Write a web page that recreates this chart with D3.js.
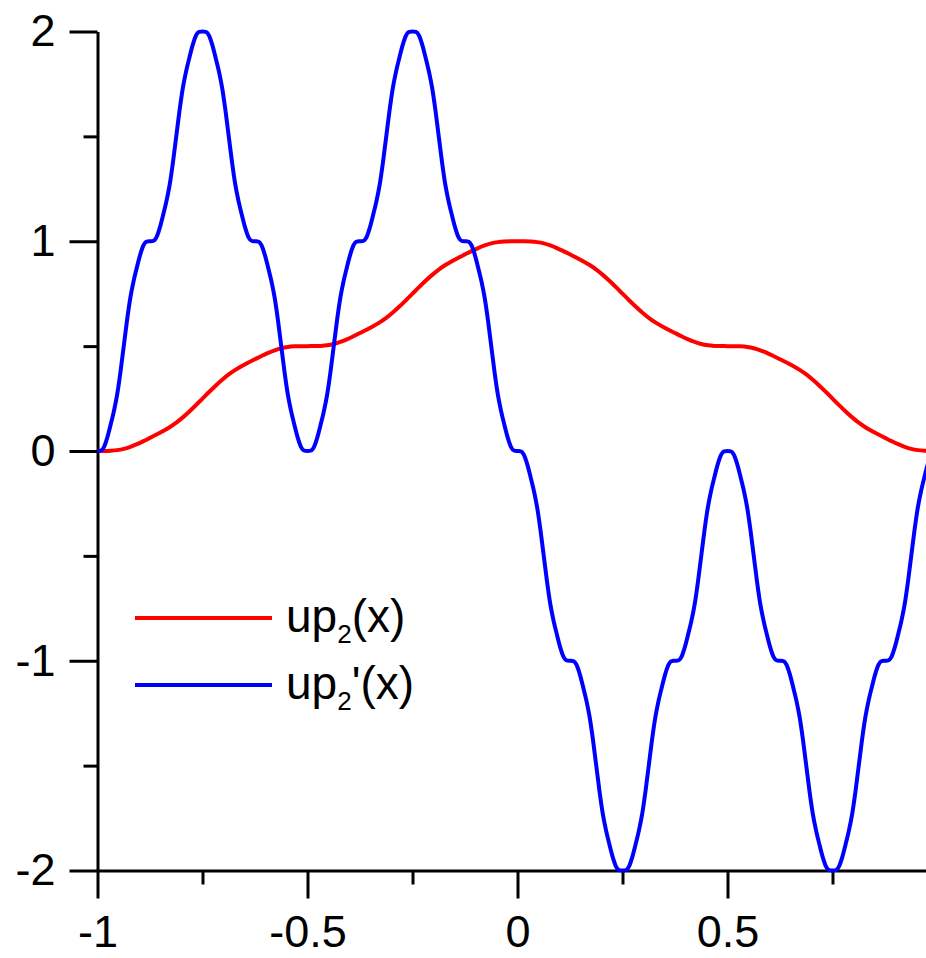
<!DOCTYPE html>
<html>
<head>
<meta charset="utf-8">
<script src="https://cdn.jsdelivr.net/npm/d3@7"></script>
<style>
  html, body { margin: 0; padding: 0; background: #fff; }
  svg { display: block; }
  text { font-family: "Liberation Sans", Arial, sans-serif; fill: #000; }
</style>
</head>
<body>
<svg id="chart" width="926" height="958"></svg>
<script>
// sample grids (x from -1 to 1)
const redStep  = 1 / 64;
const blueStep = 1 / 128;

// up2(x)
const redValues = [
  0, 0.0001, 0.0011, 0.0041, 0.0101, 0.0198, 0.0324, 0.0470,
  0.0625, 0.0782, 0.0949, 0.1135, 0.1351, 0.1604, 0.1886, 0.2188,
  0.25, 0.2812, 0.3114, 0.3396, 0.3649, 0.3865, 0.4051, 0.4218,
  0.4375, 0.4530, 0.4676, 0.4802, 0.4899, 0.4959, 0.4989, 0.4999,
  0.5, 0.5001, 0.5011, 0.5041, 0.5101, 0.5198, 0.5324, 0.5470,
  0.5625, 0.5782, 0.5949, 0.6135, 0.6351, 0.6604, 0.6886, 0.7188,
  0.75, 0.7812, 0.8114, 0.8396, 0.8649, 0.8865, 0.9051, 0.9218,
  0.9375, 0.9530, 0.9676, 0.9802, 0.9899, 0.9959, 0.9989, 0.9999,
  1,
  0.9999, 0.9989, 0.9959, 0.9899, 0.9802, 0.9676, 0.9530, 0.9375,
  0.9218, 0.9051, 0.8865, 0.8649, 0.8396, 0.8114, 0.7812, 0.75,
  0.7188, 0.6886, 0.6604, 0.6351, 0.6135, 0.5949, 0.5782, 0.5625,
  0.5470, 0.5324, 0.5198, 0.5101, 0.5041, 0.5011, 0.5001, 0.5,
  0.4999, 0.4989, 0.4959, 0.4899, 0.4802, 0.4676, 0.4530, 0.4375,
  0.4218, 0.4051, 0.3865, 0.3649, 0.3396, 0.3114, 0.2812, 0.25,
  0.2188, 0.1886, 0.1604, 0.1351, 0.1135, 0.0949, 0.0782, 0.0625,
  0.0470, 0.0324, 0.0198, 0.0101, 0.0041, 0.0011, 0.0001, 0
];

// up2'(x)
const blueValues = [
  0, 0.002, 0.020, 0.065, 0.125, 0.190, 0.270, 0.377,
  0.5, 0.623, 0.730, 0.810, 0.875, 0.935, 0.980, 0.998,
  1, 1.002, 1.020, 1.065, 1.125, 1.190, 1.270, 1.377,
  1.5, 1.623, 1.730, 1.810, 1.875, 1.935, 1.980, 1.998,
  2, 1.998, 1.980, 1.935, 1.875, 1.810, 1.730, 1.623,
  1.5, 1.377, 1.270, 1.190, 1.125, 1.065, 1.020, 1.002,
  1, 0.998, 0.980, 0.935, 0.875, 0.810, 0.730, 0.623,
  0.5, 0.377, 0.270, 0.190, 0.125, 0.065, 0.020, 0.002,
  0, 0.002, 0.020, 0.065, 0.125, 0.190, 0.270, 0.377,
  0.5, 0.623, 0.730, 0.810, 0.875, 0.935, 0.980, 0.998,
  1, 1.002, 1.020, 1.065, 1.125, 1.190, 1.270, 1.377,
  1.5, 1.623, 1.730, 1.810, 1.875, 1.935, 1.980, 1.998,
  2, 1.998, 1.980, 1.935, 1.875, 1.810, 1.730, 1.623,
  1.5, 1.377, 1.270, 1.190, 1.125, 1.065, 1.020, 1.002,
  1, 0.998, 0.980, 0.935, 0.875, 0.810, 0.730, 0.623,
  0.5, 0.377, 0.270, 0.190, 0.125, 0.065, 0.020, 0.002,
  0, -0.002, -0.020, -0.065, -0.125, -0.190, -0.270, -0.377,
  -0.5, -0.623, -0.730, -0.810, -0.875, -0.935, -0.980, -0.998,
  -1, -1.002, -1.020, -1.065, -1.125, -1.190, -1.270, -1.377,
  -1.5, -1.623, -1.730, -1.810, -1.875, -1.935, -1.980, -1.998,
  -2, -1.998, -1.980, -1.935, -1.875, -1.810, -1.730, -1.623,
  -1.5, -1.377, -1.270, -1.190, -1.125, -1.065, -1.020, -1.002,
  -1, -0.998, -0.980, -0.935, -0.875, -0.810, -0.730, -0.623,
  -0.5, -0.377, -0.270, -0.190, -0.125, -0.065, -0.020, -0.002,
  0, -0.002, -0.020, -0.065, -0.125, -0.190, -0.270, -0.377,
  -0.5, -0.623, -0.730, -0.810, -0.875, -0.935, -0.980, -0.998,
  -1, -1.002, -1.020, -1.065, -1.125, -1.190, -1.270, -1.377,
  -1.5, -1.623, -1.730, -1.810, -1.875, -1.935, -1.980, -1.998,
  -2, -1.998, -1.980, -1.935, -1.875, -1.810, -1.730, -1.623,
  -1.5, -1.377, -1.270, -1.190, -1.125, -1.065, -1.020, -1.002,
  -1, -0.998, -0.980, -0.935, -0.875, -0.810, -0.730, -0.623,
  -0.5, -0.377, -0.270, -0.190, -0.125, -0.065, -0.020, -0.002,
  0
];

const xMajor = [-1, -0.5, 0, 0.5];
const xMinor = [-0.75, -0.25, 0.25, 0.75];
const yMajor = [-2, -1, 0, 1, 2];
const yMinor = [-1.5, -0.5, 0.5, 1.5];

const legendItems = [
  { name: "up", sub: "2", tail: "(x)",  color: "#ff0000" },
  { name: "up", sub: "2", tail: "'(x)", color: "#0000ff" }
];

const svg = d3.select("#chart");
const x = d3.scaleLinear().domain([-1, 1]).range([97.5, 937.5]);
const y = d3.scaleLinear().domain([-2, 2]).range([870.5, 31.5]);

const fmt = d => String(d);
const FONT = 45;

// x axis
const gx = svg.append("g").attr("transform", `translate(0,${y(-2)})`);
gx.call(d3.axisBottom(x).tickValues(xMajor).tickSize(28).tickSizeOuter(0).tickPadding(17).tickFormat(fmt));
gx.append("g").call(d3.axisBottom(x).tickValues(xMinor).tickSize(14).tickSizeOuter(0).tickFormat(""))
  .select(".domain").remove();

// y axis
const gy = svg.append("g").attr("transform", `translate(${x(-1)},0)`);
gy.call(d3.axisLeft(y).tickValues(yMajor).tickSize(28).tickSizeOuter(0).tickPadding(14).tickFormat(fmt));
gy.append("g").call(d3.axisLeft(y).tickValues(yMinor).tickSize(14).tickSizeOuter(0).tickFormat(""))
  .select(".domain").remove();

svg.selectAll(".domain, .tick line").attr("stroke", "#000").attr("stroke-width", 3);
svg.selectAll(".tick text").attr("font-size", FONT).attr("fill", "#000")
  .style("font-family", '"Liberation Sans", Arial, sans-serif');
svg.selectAll("g").attr("font-family", null).attr("font-size", null);

// curves
const redPts  = redValues.map((v, i) => [-1 + i * redStep, v]);
const bluePts = blueValues.map((v, i) => [-1 + i * blueStep, v]);

const line = d3.line()
  .x(d => x(d[0]))
  .y(d => y(d[1]))
  .curve(d3.curveMonotoneX);

svg.append("path").datum(redPts)
  .attr("d", line).attr("fill", "none")
  .attr("stroke", "#ff0000").attr("stroke-width", 4).attr("stroke-linejoin", "round");

svg.append("path").datum(bluePts)
  .attr("d", line).attr("fill", "none")
  .attr("stroke", "#0000ff").attr("stroke-width", 4).attr("stroke-linejoin", "round");

// legend
const lg = svg.append("g");
legendItems.forEach((item, i) => {
  const ly = 618 + i * 67;
  lg.append("line")
    .attr("x1", 135).attr("x2", 272).attr("y1", ly).attr("y2", ly)
    .attr("stroke", item.color).attr("stroke-width", 4);
  const t = lg.append("text")
    .attr("x", 286).attr("y", ly + 14)
    .attr("font-size", 46);
  t.append("tspan").text(item.name);
  t.append("tspan").attr("font-size", 26).attr("dy", 11).text(item.sub);
  t.append("tspan").attr("dy", -11).text(item.tail);
});
</script>
</body>
</html>
